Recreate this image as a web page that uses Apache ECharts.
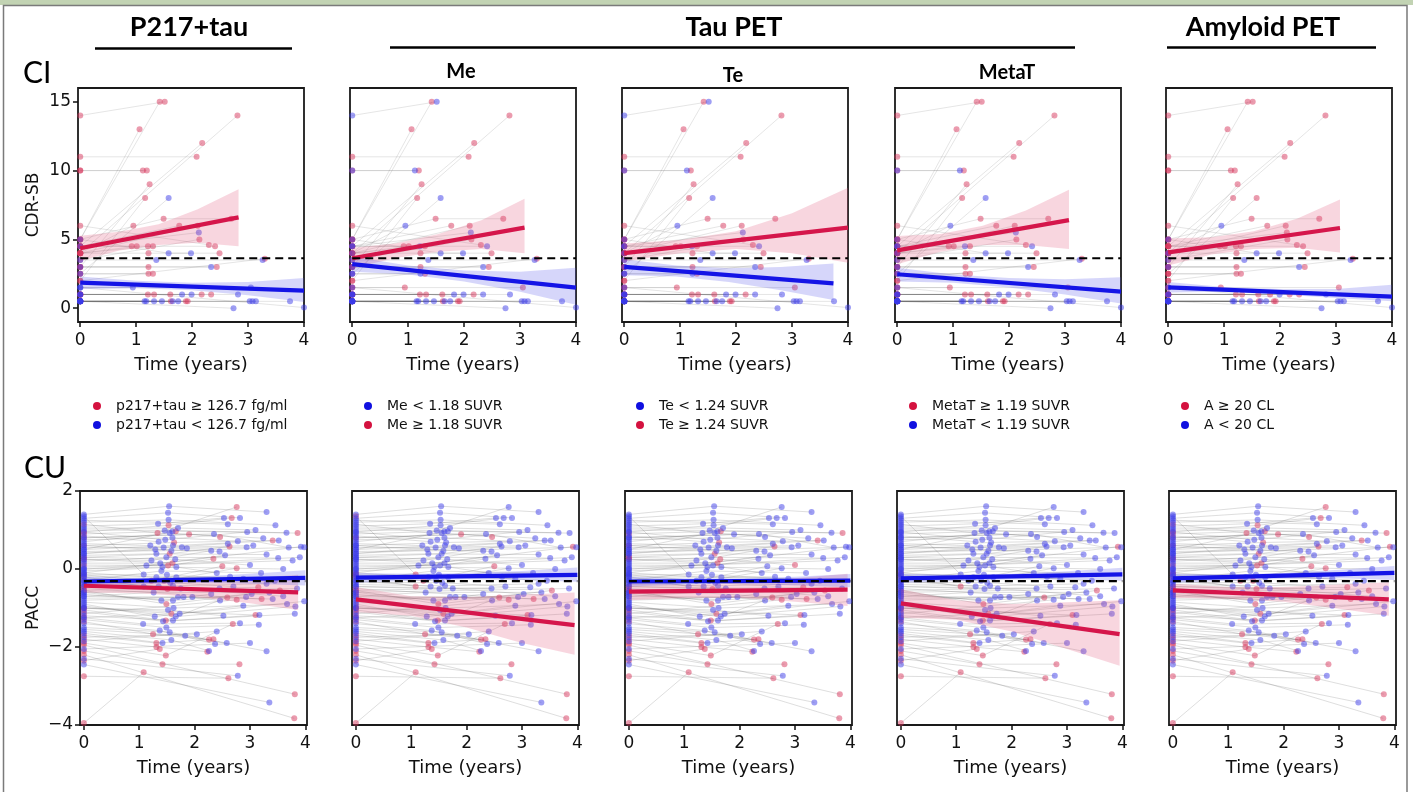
<!DOCTYPE html>
<html><head><meta charset="utf-8">
<script src="https://cdn.jsdelivr.net/npm/echarts@6/dist/echarts.min.js"></script>
<style>html,body{margin:0;padding:0;background:#fff}#c{width:1413px;height:792px}</style>
</head><body><div id="c"></div><script>
// ---------- DATA ----------
const xTicks = [0, 1, 2, 3, 4];
const ciTicks = [0, 5, 10, 15];
const cuTicks = [-4, -2, 0, 2];

const redLabels  = ['p217+tau ≥ 126.7 fg/ml', 'Me ≥ 1.18 SUVR', 'Te ≥ 1.24 SUVR', 'MetaT ≥ 1.19 SUVR', 'A ≥ 20 CL'];
const blueLabels = ['p217+tau < 126.7 fg/ml', 'Me < 1.18 SUVR', 'Te < 1.24 SUVR', 'MetaT < 1.19 SUVR', 'A < 20 CL'];
const redFirst = [true, false, false, true, true];

// CI (CDR-SB) trajectories: [time, value] per visit
const ciTraj = [
 [[0,14],[1.51,15]], [[0,5],[1.42,15]], [[0,4],[2.81,14]], [[0,5],[1.06,13]], [[0,4.5],[2.18,12]],
 [[0,11],[2.08,11]], [[0,10],[1.12,10]], [[0,10],[1.19,10]], [[0,3],[1.24,9]], [[0,2],[1.16,8]],
 [[0,2.5],[1.58,8]], [[0,4],[0.95,6]], [[0,5],[1.49,6.5],[2.7,6.5]], [[0,4.5],[1.77,6]], [[0,4],[2.1,6]],
 [[0,4.5],[2.12,5.5]], [[0,3.5],[2.13,5]], [[0,4.5],[0.92,4.5]], [[0,4],[1.01,4.5]], [[0,4.5],[1.21,4.5],[2.41,4.5]],
 [[0,4],[1.3,4.5]], [[0,4],[1.22,4],[2.49,4]], [[0,5],[1.58,4],[1.98,4]], [[0,3.5],[1.36,3.5],[3.26,3.5]], [[0,3],[1.22,3]],
 [[0,3],[2.34,3]], [[0,3],[2.44,3]], [[0,2.5],[1.22,2.5]], [[0,2.5],[1.3,2.5]], [[0,1.5],[0.94,1.5]],
 [[0,1.5],[3.05,1.5]], [[0,1],[1.21,1]], [[0,1],[1.32,1]], [[0,1],[1.61,1]], [[0,1],[2.17,1]],
 [[0,1],[2.34,1]], [[0,1],[1.82,1]], [[0,1],[1.99,1]], [[0,1],[2.82,1]], [[0,0.5],[1.15,0.5]],
 [[0,0.5],[1.18,0.5]], [[0,0.5],[1.32,0.5]], [[0,0.5],[1.46,0.5]], [[0,0.5],[1.65,0.5]], [[0,0.5],[1.75,0.5]],
 [[0,0.5],[3.03,0.5]], [[0,0.5],[3.08,0.5]], [[0,0.5],[3.14,0.5]], [[0,0.5],[3.75,0.5]], [[0,0.5],[1.62,0.5]],
 [[0,0.5],[1.89,0.5]], [[0,0.5],[1.92,0.5]], [[0,0.5],[2.74,0]], [[0,1.5],[4.0,0.05]], [[0,2],[3.3,3.6]],
 [[0,6],[2.3,4.6]]
];
// group per panel: P217, Me, Te, MetaT, Amyloid  (r = high, b = low)
const ciGroups = [
 'rbbrr','rrrrr','rrrrr','rrrrr','rrrrr',
 'rrrrr','rbbbr','rrrrr','rrrrr','rrrrr',
 'bbbbr','rbbbb','rrrrr','rrrrr','rrrrr',
 'bbbbr','rrrrr','rrrrr','rrrrr','rbbbr',
 'rrrrr','rrrrr','bbbbb','bbbbb','rrrrr',
 'bbbbb','rrrrr','rbbrr','rrrrr','brrrr',
 'brrrr','rrrrr','rrrrr','rrrrr','rrrrr',
 'rbbrr','bbbbr','bbbbb','bbbbb','bbbbb',
 'bbbbb','bbbbb','bbbbb','bbbbb','bbbbb',
 'bbbbb','bbbbb','bbbbb','bbbbb','rrrrr',
 'rrrrr','rrrrr','bbbbb','bbbbb','rrrrr',
 'rrrrr'
];

// CU (PACC) trajectories
const cuTraj = [
 [[0,1.4],[1.54,1.61],[3.3,1.46]], [[0,1.3],[1.52,1.44],[2.82,1.31]], [[0,1.2],[1.53,1.26],[3.46,1.12]],
 [[0,1.1],[1.34,1.16],[2.53,1.31]], [[0,1.15],[1.33,0.92],[2.76,1.59]], [[0,1.0],[1.46,0.99],[3.66,0.93]],
 [[0,0.9],[1.66,0.97],[3.86,0.92]], [[0,0.95],[1.53,1.12],[2.67,1.31]], [[0,0.8],[1.9,0.89],[2.46,0.82]],
 [[0,0.7],[1.55,0.92],[3.24,0.79]], [[0,0.75],[1.6,0.8],[2.78,0.71]], [[0,0.6],[1.63,0.68],[3.41,0.73]],
 [[0,0.5],[1.61,0.6],[3.52,0.73]], [[0,0.55],[1.77,0.56],[3.06,0.6]], [[0,0.4],[1.86,0.53],[2.94,0.56]],
 [[0,0.45],[1.58,0.47],[3.98,0.56]], [[0,0.3],[1.55,0.39],[2.63,0.58]], [[0,0.35],[1.31,0.39],[3.3,0.37]],
 [[0,0.2],[1.49,0.3],[3.51,0.28]], [[0,0.25],[1.22,0.22],[2.3,0.47]], [[0,0.1],[1.52,0.09],[2.34,0.26]],
 [[0,0.05],[1.13,0.09],[3.77,0.22]], [[0,0.0],[1.42,0.05],[3.6,0.0]], [[0,-0.05],[1.67,0.05],[2.4,-0.1]],
 [[0,-0.15],[1.22,-0.3],[2.5,0.07]], [[0,-0.1],[1.31,-0.21],[2.64,-0.2]], [[0,-0.2],[1.67,-0.21],[2.88,-0.25]],
 [[0,-0.3],[1.4,-0.05],[3.2,-0.1]], [[0,-0.25],[1.45,-0.3],[2.76,0.02]], [[0,-0.4],[1.61,-0.43],[3.3,-0.38]],
 [[0,-0.45],[1.51,-0.51],[3.15,-0.47]], [[0,-0.55],[1.49,-0.9],[3.54,-0.55]], [[0,-0.6],[1.4,-0.81],[2.3,-0.64]],
 [[0,-0.65],[1.61,-0.81],[3.03,-0.64]], [[0,-0.7],[1.7,-0.72],[2.93,-0.72]], [[0,-0.75],[1.8,-0.72],[3.41,-0.77]],
 [[0,-0.8],[1.96,-0.72],[2.46,-0.81]], [[0,-0.85],[1.62,-1.0],[3.67,-0.9]], [[0,-0.9],[1.28,-1.22],[2.88,-0.94]],
 [[0,-0.95],[1.66,-1.22],[3.82,-0.96]], [[0,-1.0],[1.73,-1.15],[3.98,-0.83]], [[0,-1.05],[1.48,-1.32],[2.59,-0.73]],
 [[0,-1.1],[1.43,-1.34],[3.81,-1.15]], [[0,-1.2],[1.61,-1.32],[3.17,-1.18]], [[0,-1.25],[1.07,-1.41],[2.82,-1.39]],
 [[0,-1.3],[1.49,-1.5],[3.16,-1.43]], [[0,-1.4],[1.37,-1.58],[2.37,-1.92]], [[0,-1.5],[1.55,-1.62],[2.58,-1.9]],
 [[0,-1.6],[1.58,-1.82],[2.26,-2.1]], [[0,-1.55],[1.83,-1.71],[3.3,-2.11]], [[0,-1.35],[1.25,-1.67],[2.26,-1.81]],
 [[0,-1.7],[1.31,-1.9],[2.34,-1.8]], [[0,-1.8],[1.31,-2.0],[2.23,-2.12]], [[0,-1.9],[1.48,-2.22],[2.69,-1.41]],
 [[0,-2.1],[1.42,-2.44],[2.81,-2.44]], [[0,-3.95],[1.08,-2.65]], [[0,-2.75],[2.61,-2.8]],
 [[0,-2.3],[2.78,-2.74]], [[0,-2.45],[3.35,-3.42]], [[0,-1.95],[3.81,-3.21]],
 [[0,-2.2],[3.8,-3.83]], [[0,-1.65],[1.42,-1.9]], [[0,-1.75],[2.04,-1.67]],
 [[0,-1.15],[2.76,-0.79]], [[0,-0.5],[3.21,-0.77]], [[0,-1.0],[3.1,-1.18]],
 [[0,0.65],[1.2,0.6]], [[0,0.85],[1.35,0.7]], [[0,0.15],[1.38,0.15],[2.55,0.35]],
 [[0,-0.35],[1.56,-0.35],[2.7,-0.45]], [[0,0.3],[1.65,0.25],[3.0,0.1]], [[0,-0.7],[1.26,-0.6],[3.35,-0.6]],
 [[0,0.95],[1.47,0.75],[2.95,0.95]], [[0,0.6],[1.29,0.5],[2.45,0.45]], [[0,-0.15],[1.5,-0.15],[3.45,-0.3]],
 [[0,-1.0],[1.52,-1.05],[2.52,-1.2]], [[0,1.05],[1.7,1.05],[3.1,1.0]], [[0,-0.55],[1.75,-0.5],[3.6,-0.7]],
 [[0,0.4],[1.44,0.55],[2.6,0.65]], [[0,-1.25],[1.58,-1.15]], [[0,0.25],[1.6,0.15]],
 [[0,-0.3],[1.35,-0.45]], [[0,-2.35],[1.37,-2.05]], [[0,0.8],[2.35,0.9],[3.7,0.55]],
 [[0,1.25],[2.6,1.15]], [[0,-0.45],[2.45,-0.5]], [[0,-1.85],[2.4,-1.6]],
 [[0,-2.05],[3.0,-1.9]], [[0,0.0],[3.9,0.3]], [[0,-0.6],[3.85,-0.5]],
 [[0,1.35],[1.08,-0.14]], [[0,-0.2],[1.08,-0.45]], [[0,0.5],[1.6,0.96]],
 [[0,-0.1],[3.92,0.57]]
];
const cuGroups = [
 'bbbbb','bbbbb','bbbbb','bbbbb','rbbbr','bbbbb','rbrbr','rbbbr','rrbbr','bbbbb',
 'bbbbb','rbrbr','bbbbb','bbbbb','bbbbb','bbbbb','rbrbr','bbbbb','bbbbb','bbbbb',
 'rbbbr','bbbbb','bbbbb','bbbbb','rrbbr','bbbbb','bbbbb','bbbbb','rbbbr','bbbbb',
 'rbrbr','rrrrr','bbbbb','bbbbb','bbbbb','bbbbb','bbbbb','bbbbb','bbbbb','bbbbb',
 'bbbbb','rrrrr','bbbbb','bbbbb','bbbbb','bbbbb','bbbbb','bbbbb','bbbbb','bbbbb',
 'rrrrr','rrrrr','rrrrr','rrrrr','rrrrr','rrrrr','rrrrr','bbbbb','bbbbb','rrrrr',
 'rrrrr','bbbbb','bbbbb','rrrbr','rrrbr','rrrrr','bbbbb','bbbbb','bbbbb','bbbbb',
 'bbrbb','bbbbb','bbbbb','bbbbb','bbbbb','bbbbb','bbbbb','bbbbb','bbbbb','rrrrr',
 'rbrbr','bbbbb','rrrrr','bbbbb','bbbbb','bbbbb','bbbbb','bbbbb','bbbbb','bbbbb',
 'brbbb','brbrb','bbbbb','brbrr'
];

// fitted trends [time, value] and confidence bands [time, low, high]
const ciRedFit = [[[0,4.36],[2.83,6.6]], [[0,3.63],[3.08,5.86]], [[0,4.0],[4.0,5.86]], [[0,4.2],[3.07,6.4]], [[0,4.06],[3.07,5.83]]];
const ciBlueFit = [[[0,1.86],[4,1.28]], [[0,3.2],[4,1.5]], [[0,3.0],[3.74,1.8]], [[0,2.47],[4,1.2]], [[0,1.52],[4,0.85]]];
const ciRedBand = [
 [[0,3.45,5.27],[0.7,4.2,5.55],[1.4,4.6,6.1],[2.1,4.75,7.2],[2.83,4.5,8.65]],
 [[0,2.9,4.4],[0.77,3.65,4.7],[1.54,4.1,5.4],[2.31,4.3,6.4],[3.08,4.0,7.95]],
 [[0,3.4,4.7],[1,4.0,4.95],[2,4.3,5.6],[3,4.0,6.9],[4,3.3,8.75]],
 [[0,3.2,5.25],[0.77,4.1,5.4],[1.53,4.6,6.0],[2.3,4.6,7.1],[3.07,4.3,8.6]],
 [[0,3.1,5.06],[0.77,3.9,5.15],[1.53,4.3,5.6],[2.3,4.4,6.5],[3.07,4.05,7.9]]
];
const ciBlueBand = [
 [[0,1.4,2.3],[1,1.45,2.0],[2,1.3,1.85],[3,0.95,1.9],[4,0.45,2.2]],
 [[0,2.65,3.75],[1,2.45,3.1],[2,1.95,2.75],[3,1.2,2.65],[4,0.25,2.95]],
 [[0,2.4,3.55],[0.93,2.3,3.1],[1.87,1.9,2.9],[2.8,1.3,3.0],[3.74,0.6,3.25]],
 [[0,1.95,2.95],[1,1.85,2.45],[2,1.5,2.2],[3,1.0,2.1],[4,0.35,2.25]],
 [[0,1.15,1.9],[1,1.2,1.55],[2,1.0,1.4],[3,0.75,1.4],[4,0.5,1.7]]
];
const cuRedFit = [[[0,-0.43],[3.87,-0.6]], [[0,-0.78],[3.95,-1.44]], [[0,-0.58],[3.95,-0.53]], [[0,-0.88],[3.95,-1.67]], [[0,-0.55],[3.9,-0.78]]];
const cuBlueFit = [[[0,-0.32],[4,-0.23]], [[0,-0.22],[4,-0.15]], [[0,-0.32],[4,-0.3]], [[0,-0.24],[4,-0.14]], [[0,-0.24],[4,-0.1]]];
const cuRedBand = [
 [[0,-0.6,-0.26],[1,-0.62,-0.34],[2,-0.72,-0.32],[3,-0.88,-0.24],[3.87,-1.05,-0.15]],
 [[0,-1.1,-0.46],[1,-1.2,-0.7],[2,-1.5,-0.72],[3,-1.9,-0.66],[3.95,-2.2,-0.6]],
 [[0,-0.8,-0.36],[1,-0.74,-0.4],[2,-0.74,-0.36],[3,-0.84,-0.24],[3.95,-0.95,-0.12]],
 [[0,-1.25,-0.52],[1,-1.3,-0.8],[2,-1.6,-0.9],[3,-2.05,-0.85],[3.95,-2.48,-0.8]],
 [[0,-0.74,-0.38],[1,-0.76,-0.46],[2,-0.84,-0.46],[3,-1.02,-0.4],[3.9,-1.2,-0.34]]
];
const cuBlueBand = [
 [[0,-0.45,-0.2],[1,-0.4,-0.24],[2,-0.36,-0.2],[3,-0.38,-0.12],[4,-0.42,-0.03]],
 [[0,-0.35,-0.1],[1,-0.3,-0.12],[2,-0.26,-0.1],[3,-0.28,-0.05],[4,-0.33,0.04]],
 [[0,-0.45,-0.2],[1,-0.4,-0.24],[2,-0.38,-0.24],[3,-0.42,-0.2],[4,-0.47,-0.13]],
 [[0,-0.36,-0.12],[1,-0.31,-0.15],[2,-0.27,-0.12],[3,-0.27,-0.06],[4,-0.3,0.03]],
 [[0,-0.36,-0.12],[1,-0.3,-0.14],[2,-0.25,-0.1],[3,-0.24,-0.02],[4,-0.28,0.08]]
];
const ciDash = [[0, 3.63], [4, 3.63]];
const cuDash = [[0, -0.31], [4, -0.31]];

// ---------- LAYOUT / STYLE ----------
const FONT = 'DejaVu Sans';
const TXT = '#111';
const topLefts = [78, 350, 622, 895, 1166];
const botLefts = [80, 352, 625, 897, 1169];
const legendLefts = [88, 359, 631, 904, 1176];
const C_RED_PT = 'rgba(214,52,92,0.62)';
const C_BLUE_PT = 'rgba(58,58,232,0.62)';
const C_RED = '#d5164b';
const C_BLUE = '#1414e6';
const C_RED_BAND = 'rgba(226,84,120,0.24)';
const C_BLUE_BAND = 'rgba(84,84,236,0.24)';

const grid = [], xAxis = [], yAxis = [], series = [], legend = [];
const minus = v => String(v).replace('-', '\u2212');

function pointsOf(traj, groups, col, code) {
  const out = [];
  traj.forEach((t, i) => { if (groups[i][col] === code) t.forEach(p => out.push(p)); });
  return out;
}
function bandSeries(idx, band, color) {
  return {
    type: 'custom', xAxisIndex: idx, yAxisIndex: idx, silent: true, z: 3,
    data: band, encode: { x: 0, y: [1, 2] },
    renderItem: (params, api) => {
      if (params.dataIndex !== 0) return null;
      const up = band.map(p => api.coord([p[0], p[2]]));
      const lo = band.map(p => api.coord([p[0], p[1]])).reverse();
      return { type: 'polygon', shape: { points: up.concat(lo) }, style: { fill: color } };
    }
  };
}

for (let row = 0; row < 2; row++) {
  for (let col = 0; col < 5; col++) {
    const idx = row * 5 + col;
    const ci = row === 0;
    grid.push({ left: ci ? topLefts[col] : botLefts[col], top: ci ? 88 : 491,
      width: ci ? 226 : 227, height: 234, show: true, borderColor: '#1a1a1a', borderWidth: 1.8,
      backgroundColor: 'transparent', containLabel: false });
    xAxis.push({ type: 'value', gridIndex: idx, min: ci ? -0.04 : -0.07, max: ci ? 4.0 : 4.03,
      axisLine: { show: false, onZero: false }, splitLine: { show: false },
      axisTick: { show: true, customValues: xTicks, length: 5, lineStyle: { color: TXT, width: 1.5 } },
      axisLabel: { customValues: xTicks, fontSize: 17, fontFamily: FONT, color: TXT, margin: 10 },
      name: 'Time (years)', nameLocation: 'middle', nameGap: 34,
      nameTextStyle: { fontSize: 18, fontFamily: FONT, color: TXT } });
    const yTicks = ci ? ciTicks : cuTicks;
    yAxis.push({ type: 'value', gridIndex: idx, min: ci ? -1 : -4, max: ci ? 16 : 2,
      axisLine: { show: false, onZero: false }, splitLine: { show: false },
      axisTick: { show: col === 0, customValues: yTicks, length: 5, lineStyle: { color: TXT, width: 1.5 } },
      axisLabel: { show: col === 0, customValues: yTicks, fontSize: 17, fontFamily: FONT, color: TXT, margin: 7, formatter: minus },
      name: col === 0 ? (ci ? 'CDR-SB' : 'PACC') : '', nameLocation: 'middle', nameGap: ci ? 36 : 38,
      nameTextStyle: { fontSize: 17, fontFamily: FONT, color: TXT } });

    const traj = ci ? ciTraj : cuTraj;
    const groups = ci ? ciGroups : cuGroups;
    series.push({ type: 'lines', coordinateSystem: 'cartesian2d', xAxisIndex: idx, yAxisIndex: idx,
      polyline: true, silent: true, z: 1, data: traj.map(c => ({ coords: c })),
      lineStyle: { color: ci ? 'rgba(100,100,100,0.42)' : 'rgba(90,90,90,0.5)', width: 0.8 } });
    series.push({ type: 'scatter', name: redLabels[col], xAxisIndex: idx, yAxisIndex: idx, z: 2, silent: true,
      symbolSize: 6, itemStyle: { color: C_RED_PT }, data: pointsOf(traj, groups, col, 'r') });
    series.push({ type: 'scatter', name: blueLabels[col], xAxisIndex: idx, yAxisIndex: idx, z: 2, silent: true,
      symbolSize: 6, itemStyle: { color: C_BLUE_PT }, data: pointsOf(traj, groups, col, 'b') });
    series.push(bandSeries(idx, (ci ? ciRedBand : cuRedBand)[col], C_RED_BAND));
    series.push(bandSeries(idx, (ci ? ciBlueBand : cuBlueBand)[col], C_BLUE_BAND));
    series.push({ type: 'line', xAxisIndex: idx, yAxisIndex: idx, z: 4, silent: true, symbol: 'none',
      data: (ci ? ciRedFit : cuRedFit)[col], lineStyle: { color: C_RED, width: 4.2 } });
    series.push({ type: 'line', xAxisIndex: idx, yAxisIndex: idx, z: 4, silent: true, symbol: 'none',
      data: (ci ? ciBlueFit : cuBlueFit)[col], lineStyle: { color: C_BLUE, width: 4.2 } });
    series.push({ type: 'line', xAxisIndex: idx, yAxisIndex: idx, z: 5, silent: true, symbol: 'none',
      data: ci ? ciDash : cuDash, lineStyle: { color: '#000', width: 2.2, type: [8, 5] } });
  }
}

for (let col = 0; col < 5; col++) {
  const r = { name: redLabels[col], itemStyle: { color: '#d4123f', opacity: 1 } };
  const b = { name: blueLabels[col], itemStyle: { color: '#1010e0', opacity: 1 } };
  legend.push({ left: legendLefts[col], top: 394, orient: 'vertical', icon: 'circle',
    itemWidth: 28, itemHeight: 8, itemGap: 5, selectedMode: false,
    textStyle: { fontSize: 14, fontFamily: FONT, color: TXT },
    data: redFirst[col] ? [r, b] : [b, r] });
}

const HEAD = 'Lato';
const graphic = [
  { type: 'rect', shape: { x: 0, y: 0, width: 1413, height: 5 }, style: { fill: '#c2d3b3' }, silent: true },
  { type: 'rect', shape: { x: 3.5, y: 5.5, width: 1403.5, height: 800 }, style: { fill: 'none', stroke: '#7a7a7a', lineWidth: 1.5 }, silent: true },
  { type: 'text', x: 189, y: 27, style: { text: 'P217+tau', font: 'bold 27px ' + HEAD, fill: '#000', align: 'center', verticalAlign: 'middle' } },
  { type: 'text', x: 734, y: 27, style: { text: 'Tau PET', font: 'bold 27px ' + HEAD, fill: '#000', align: 'center', verticalAlign: 'middle' } },
  { type: 'text', x: 1263, y: 27, style: { text: 'Amyloid PET', font: 'bold 27px ' + HEAD, fill: '#000', align: 'center', verticalAlign: 'middle' } },
  { type: 'line', shape: { x1: 95, y1: 48.5, x2: 292, y2: 48.5 }, style: { stroke: '#000', lineWidth: 2.5 } },
  { type: 'line', shape: { x1: 390, y1: 47.5, x2: 1075, y2: 47.5 }, style: { stroke: '#000', lineWidth: 2.5 } },
  { type: 'line', shape: { x1: 1167, y1: 47.5, x2: 1376, y2: 47.5 }, style: { stroke: '#000', lineWidth: 2.5 } },
  { type: 'text', x: 461, y: 72, style: { text: 'Me', font: 'bold 20px ' + HEAD, fill: '#000', align: 'center', verticalAlign: 'middle' } },
  { type: 'text', x: 733, y: 76, style: { text: 'Te', font: 'bold 20px ' + HEAD, fill: '#000', align: 'center', verticalAlign: 'middle' } },
  { type: 'text', x: 1007, y: 73, style: { text: 'MetaT', font: 'bold 20px ' + HEAD, fill: '#000', align: 'center', verticalAlign: 'middle' } },
  { type: 'text', x: 23, y: 73, style: { text: 'CI', font: '30px ' + HEAD, fill: '#000', align: 'left', verticalAlign: 'middle' } },
  { type: 'text', x: 24, y: 468, style: { text: 'CU', font: '30px ' + HEAD, fill: '#000', align: 'left', verticalAlign: 'middle' } }
];

const chart = echarts.init(document.getElementById('c'), null, { renderer: 'canvas' });
chart.setOption({ animation: false, backgroundColor: '#fff', grid, xAxis, yAxis, series, legend, graphic });
</script></body></html>
